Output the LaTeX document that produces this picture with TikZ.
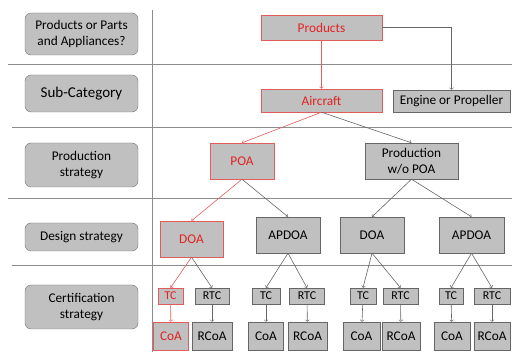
\documentclass[tikz,border=0pt]{standalone}
\usepackage{fontspec}
\setmainfont{Carlito}
\usetikzlibrary{positioning, arrows}
\definecolor{boxgray}{RGB}{192,192,192}
\definecolor{redline}{RGB}{226,92,92}
\definecolor{redtext}{RGB}{226,34,34}
\tikzset{
    %Define style for the row labels
    lanebox/.style={
           rectangle,
           rounded corners=6pt,
           draw=black!55,
           fill=boxgray,
           minimum width=113pt,
           inner sep=2pt,
           align=center},
 %
  stepbox/.style={
           rectangle,
           draw=black!60,
           fill=boxgray,
           inner sep=1pt,
           align=center},
 %
  redbox/.style={
           stepbox,
           draw=redline,
           text=redtext},
 %
    % Define arrow style
    arrow/.style={
           ->,
           >=to,
           line width=0.6pt,
           draw=black!60},
    redarrow/.style={
           arrow,
           draw=redline},
    gridline/.style={
           line width=0.8pt,
           draw=black!45},
    smalltext/.style={
           font=\fontsize{12}{14}\selectfont}
}
\begin{document}
\begin{tikzpicture}[x=1pt, y=-1pt, font=\fontsize{13.3}{16}\selectfont]
  \useasboundingbox (0,0) rectangle (512,352);

  % grid
  \draw[gridline] (152,10) -- (152,352);
  \draw[gridline] (8,64) -- (512,64);
  \draw[gridline] (12,127) -- (512,127);
  \draw[gridline] (8,198) -- (512,198);
  \draw[gridline] (12,265) -- (512,265);

  % row labels
  \node[lanebox, minimum height=42pt] (qprod) at (81.5,34) {Products or Parts\\and Appliances?};
  \node[lanebox, minimum height=37pt, font=\fontsize{15}{17}\selectfont] (qsub) at (81.5,93.5) {Sub-Category};
  \node[lanebox, minimum height=44pt] (qprodstr) at (81.5,165) {Production\\strategy};
  \node[lanebox, minimum height=28pt] (qdes) at (81.5,237) {Design strategy};
  \node[lanebox, minimum height=44pt] (qcert) at (81.5,307) {Certification\\strategy};

  % products and sub-category
  \node[redbox, minimum width=121pt, minimum height=25pt] (products) at (321.5,27.5) {Products};
  \node[redbox, minimum width=121pt, minimum height=23pt] (aircraft) at (321.5,100.5) {Aircraft};
  \node[stepbox, minimum width=117pt, minimum height=22pt] (engine) at (451.5,101) {Engine or Propeller};

  % production strategy
  \node[redbox, minimum width=64pt, minimum height=36pt] (poa) at (242,161) {POA};
  \node[stepbox, minimum width=93pt, minimum height=36pt] (prodwo) at (411.5,161) {Production\\w/o POA};

  % design strategy
  \node[redbox, minimum width=63pt, minimum height=36pt] (doa) at (191.5,239) {DOA};
  \node[stepbox, minimum width=64pt, minimum height=36pt] (apdoa) at (288,235) {APDOA};
  \node[stepbox, minimum width=64pt, minimum height=36pt] (doab) at (372,235) {DOA};
  \node[stepbox, minimum width=65pt, minimum height=36pt] (apdoab) at (471.5,235) {APDOA};

  % certification strategy
  \node[redbox, smalltext, minimum width=25pt, minimum height=16pt] (tc) at (170.5,296) {TC};
  \node[stepbox, smalltext, minimum width=34pt, minimum height=16pt] (rtc) at (212,296) {RTC};
  \node[redbox, minimum width=35pt, minimum height=28pt] (coa) at (171,336) {CoA};
  \node[stepbox, minimum width=40pt, minimum height=28pt] (rcoa) at (212,336) {RCoA};

  \node[stepbox, smalltext, minimum width=28pt, minimum height=16pt] (tcb) at (266,296) {TC};
  \node[stepbox, smalltext, minimum width=35pt, minimum height=16pt] (rtcb) at (307,296) {RTC};
  \node[stepbox, minimum width=35pt, minimum height=28pt] (coab) at (266,336) {CoA};
  \node[stepbox, minimum width=39pt, minimum height=28pt] (rcoab) at (307.5,336) {RCoA};

  \node[stepbox, smalltext, minimum width=26pt, minimum height=16pt] (tcc) at (363,296) {TC};
  \node[stepbox, smalltext, minimum width=35pt, minimum height=16pt] (rtcc) at (400.5,296) {RTC};
  \node[stepbox, minimum width=37pt, minimum height=28pt] (coac) at (361.5,336) {CoA};
  \node[stepbox, minimum width=38pt, minimum height=28pt] (rcoac) at (401,336) {RCoA};

  \node[stepbox, smalltext, minimum width=24pt, minimum height=16pt] (tcd) at (451,296) {TC};
  \node[stepbox, smalltext, minimum width=36pt, minimum height=16pt] (rtcd) at (492,296) {RTC};
  \node[stepbox, minimum width=36pt, minimum height=28pt] (coad) at (452,336) {CoA};
  \node[stepbox, minimum width=36pt, minimum height=28pt] (rcoad) at (492,336) {RCoA};

  \draw[arrow] (products.east) -| (engine.north);
  \path
    (products.south) edge[redarrow] (aircraft.north)
    (aircraft.south) edge[redarrow] (poa.north)
    (aircraft.south) edge[arrow] (prodwo.north)
    (poa.south) edge[redarrow] (doa.north)
    (poa.south) edge[arrow] (apdoa.north)
    (prodwo.south) edge[arrow] (doab.north)
    (prodwo.south) edge[arrow] (apdoab.north)
    (doa.south) edge[redarrow] (tc.north)
    (doa.south) edge[arrow] (rtc.north)
    (tc) edge[redarrow] (coa)
    (rtc) edge[arrow] (rcoa)
    (apdoa.south) edge[arrow] (tcb.north)
    (apdoa.south) edge[arrow] (rtcb.north)
    (tcb) edge[arrow] (coab)
    (rtcb) edge[arrow] (rcoab)
    (doab.south) edge[arrow] (tcc.north)
    (doab.south) edge[arrow] (rtcc.north)
    (tcc) edge[arrow] (coac)
    (rtcc) edge[arrow] (rcoac)
    (apdoab.south) edge[arrow] (tcd.north)
    (apdoab.south) edge[arrow] (rtcd.north)
    (tcd) edge[arrow] (coad)
    (rtcd) edge[arrow] (rcoad);
\end{tikzpicture}
\end{document}
